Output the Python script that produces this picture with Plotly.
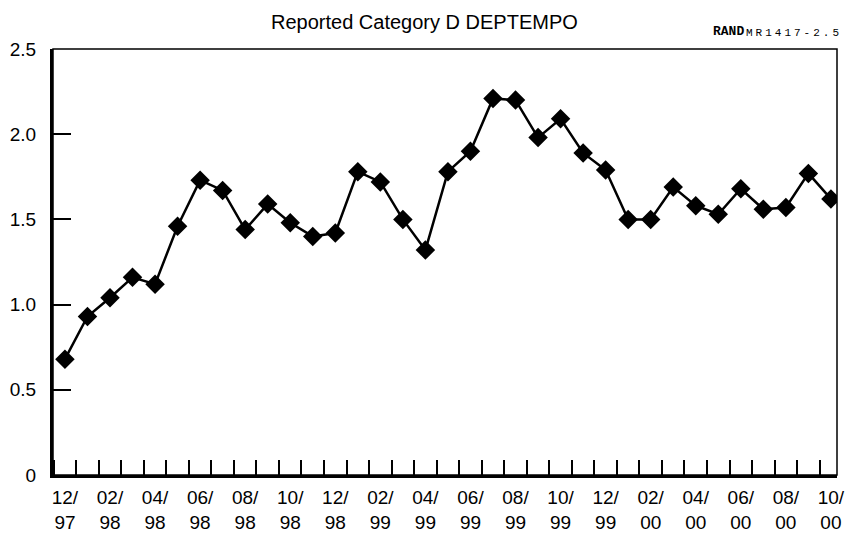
import plotly.graph_objects as go

months = ["12/97", "01/98", "02/98", "03/98", "04/98", "05/98", "06/98", "07/98", "08/98", "09/98",
          "10/98", "11/98", "12/98", "01/99", "02/99", "03/99", "04/99", "05/99", "06/99", "07/99",
          "08/99", "09/99", "10/99", "11/99", "12/99", "01/00", "02/00", "03/00", "04/00", "05/00",
          "06/00", "07/00", "08/00", "09/00", "10/00"]
values = [0.68, 0.93, 1.04, 1.16, 1.12, 1.46, 1.73, 1.67, 1.44, 1.59,
          1.48, 1.40, 1.42, 1.78, 1.72, 1.50, 1.32, 1.78, 1.90, 2.21,
          2.20, 1.98, 2.09, 1.89, 1.79, 1.50, 1.50, 1.69, 1.58, 1.53,
          1.68, 1.56, 1.57, 1.77, 1.62]
y_ticks = [0, 0.5, 1.0, 1.5, 2.0, 2.5]
y_labels = ["0", "0.5", "1.0", "1.5", "2.0", "2.5"]

x_idx = list(range(len(months)))
label_idx = x_idx[::2]
label_text = [months[i].replace("/", "/<br>") for i in label_idx]

fig = go.Figure()
fig.add_trace(go.Scatter(
    x=x_idx, y=values, mode="lines+markers",
    line=dict(color="black", width=2.5),
    marker=dict(symbol="diamond", size=15, color="black"),
    hoverinfo="skip", showlegend=False))

font_family = "Liberation Sans, Arial, Helvetica, sans-serif"
fig.update_layout(
    width=849, height=533,
    margin=dict(l=53, r=12, t=49, b=58, autoexpand=False),
    paper_bgcolor="white", plot_bgcolor="white",
    font=dict(family=font_family, size=19, color="black"),
    xaxis=dict(range=[-0.53, 34.27], tickmode="array", tickvals=label_idx, ticktext=label_text,
               ticks="", showgrid=False, zeroline=False, showline=True, linecolor="black",
               linewidth=3, mirror=False, ticklabelstandoff=3, automargin=False,
               tickfont=dict(size=19),
               minor=dict(tick0=0.5, dtick=1, ticks="inside", ticklen=15, tickwidth=1.5,
                          tickcolor="black", showgrid=False)),
    yaxis=dict(range=[0, 2.5], tickmode="array", tickvals=y_ticks, ticktext=y_labels,
               ticks="inside", ticklen=18, tickwidth=1.5, tickcolor="black",
               showgrid=False, zeroline=False, showline=True, linecolor="black", linewidth=3,
               ticklabelstandoff=10, automargin=False, tickfont=dict(size=19)),
)
# thin top/right frame
fig.add_shape(type="rect", xref="paper", yref="paper", x0=0, y0=0, x1=1, y1=1,
              line=dict(color="black", width=1.5), layer="above")
fig.add_annotation(text="Reported Category D DEPTEMPO", xref="paper", yref="paper",
                   x=(424 - 53) / 784, y=1, yanchor="bottom", yshift=14, showarrow=False,
                   font=dict(size=20, family=font_family))
mono = "Liberation Mono, DejaVu Sans Mono, monospace"
fig.add_annotation(text="<b>RAND</b>", xref="paper", yref="paper",
                   x=(746 - 53) / 784, xanchor="right", y=1, yanchor="bottom", yshift=8,
                   showarrow=False, font=dict(size=13, family=mono))
fig.add_annotation(text="<span style='letter-spacing:3px'>MR1417-2.5</span>",
                   xref="paper", yref="paper", x=(744 - 53) / 784, xanchor="left",
                   y=1, yanchor="bottom", yshift=8, showarrow=False,
                   font=dict(size=11, family=mono))
fig.write_html("out.html", config={"displayModeBar": False},
               post_script="document.body.style.margin='0';")
